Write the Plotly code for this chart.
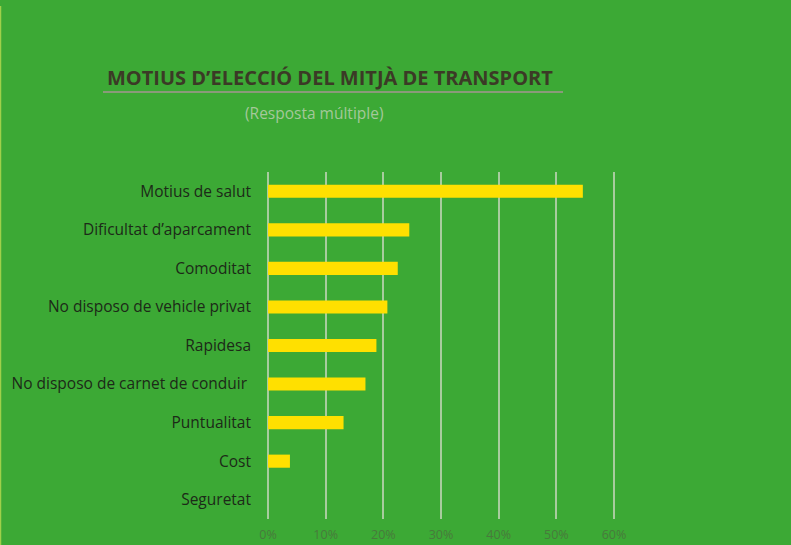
import plotly.graph_objects as go

categories = [
    "Motius de salut",
    "Dificultat d’aparcament",
    "Comoditat",
    "No disposo de vehicle privat",
    "Rapidesa",
    "No disposo de carnet de conduir ",
    "Puntualitat",
    "Cost",
    "Seguretat",
]
values = [0.546, 0.245, 0.225, 0.207, 0.188, 0.169, 0.131, 0.038, 0.0]
tick_vals = [0, 0.1, 0.2, 0.3, 0.4, 0.5, 0.6]
tick_text = ["0%", "10%", "20%", "30%", "40%", "50%", "60%"]

BG = "#3ca935"

fig = go.Figure(
    go.Bar(
        y=categories,
        x=values,
        orientation="h",
        marker=dict(color="#ffe000", line=dict(width=0)),
        width=0.34,
    )
)

fig.update_layout(
    width=791,
    height=545,
    paper_bgcolor=BG,
    plot_bgcolor=BG,
    margin=dict(l=266, r=175, t=172, b=26, autoexpand=False),
    showlegend=False,
    font=dict(family="Open Sans", color="#1c2a18"),
    xaxis=dict(
        range=[-0.0035, 0.6035],
        tickvals=tick_vals,
        ticktext=tick_text,
        showgrid=True,
        gridcolor="#a8cc9e",
        gridwidth=1.5,
        zeroline=False,
        showline=False,
        tickfont=dict(size=12.5, color="#487a3c"),
        ticklabelstandoff=6,
        ticks="",
        layer="below traces",
    ),
    yaxis=dict(
        autorange="reversed",
        showgrid=False,
        zeroline=False,
        showline=False,
        tickfont=dict(size=15.5, color="#1c2a18"),
        ticklabelstandoff=14,
        ticks="",
    ),
    annotations=[
        dict(
            text="<b>MOTIUS D’ELECCIÓ DEL MITJÀ DE TRANSPORT</b>",
            xref="paper", yref="paper",
            x=(105 - 266) / (791 - 266 - 175), y=(545 - 26 - 77) / (545 - 172 - 26),
            xanchor="left", yanchor="middle", showarrow=False,
            font=dict(size=20, color="#3b3a26", family="Open Sans"),
        ),
        dict(
            text="(Resposta múltiple)",
            xref="paper", yref="paper",
            x=(243 - 266) / (791 - 266 - 175), y=(545 - 26 - 113) / (545 - 172 - 26),
            xanchor="left", yanchor="middle", showarrow=False,
            font=dict(size=15.5, color="#a4c89a", family="Open Sans"),
        ),
    ],
    shapes=[
        dict(type="line", xref="paper", yref="paper",
             x0=(103 - 266) / 350, x1=(563 - 266) / 350,
             y0=(545 - 26 - 92) / 347, y1=(545 - 26 - 92) / 347,
             line=dict(color="#8a9a7a", width=2)),
        dict(type="line", xref="paper", yref="paper",
             x0=(0.5 - 266) / 350, x1=(0.5 - 266) / 350,
             y0=(545 - 26 - 6) / 347, y1=(545 - 26 - 545) / 347,
             line=dict(color="#9ed04a", width=1.5)),
    ],
)

fig.write_html(
    "out.html",
    config={"displayModeBar": False},
    post_script="document.body.style.margin='0';document.body.style.overflow='hidden';",
)
